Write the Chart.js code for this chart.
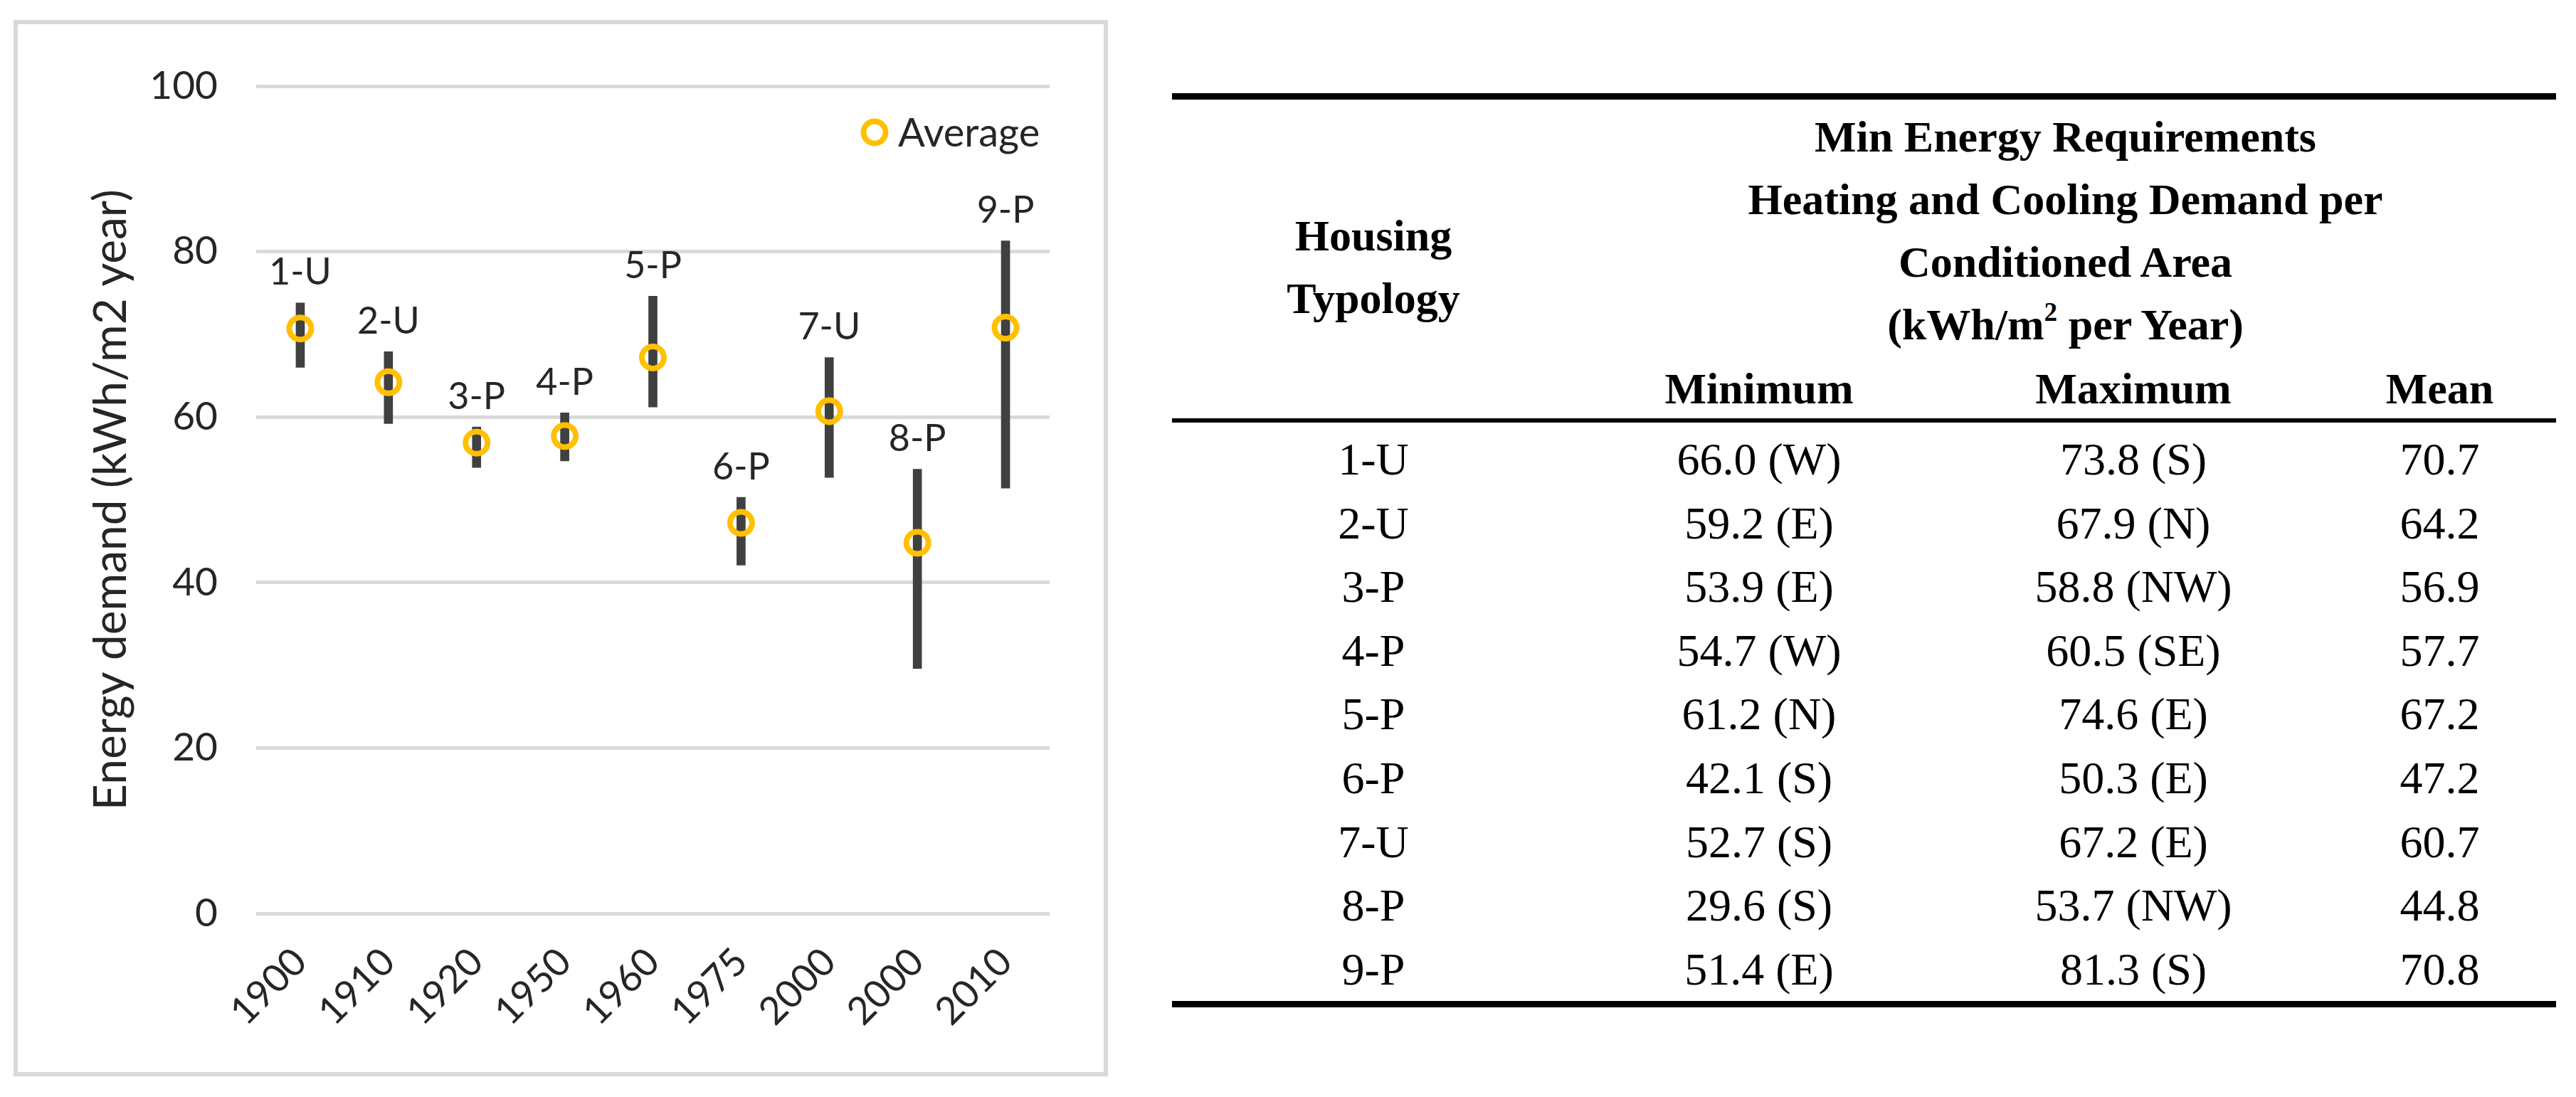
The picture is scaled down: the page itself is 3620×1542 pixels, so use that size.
<!DOCTYPE html>
<html>
<head>
<meta charset="utf-8">
<script src="https://cdn.jsdelivr.net/npm/chart.js@4"></script>
<style>
  body { margin: 0; background: #fff; width: 3620px; height: 1542px; position: relative; overflow: hidden; }
  #panel { position: absolute; left: 19px; top: 28px; width: 1538px; height: 1485px; border: 6px solid #d9d9d9; box-sizing: border-box; }
  #chartBox { position: absolute; left: 0; top: 0; }
  #tbl { position: absolute; left: 1647px; top: 131px; width: 1945px; table-layout: fixed; border-collapse: separate; border-spacing: 0; font-family: "Liberation Serif", serif; color: #000; }
  #tbl td, #tbl th { padding: 0; text-align: center; }
  #tbl th { font-size: 62px; font-weight: bold; line-height: 88px; }
  #tbl thead tr.r1 th { border-top: 9px solid #000; padding-top: 8px; vertical-align: top; }
  #tbl thead tr.r1 th.typ { vertical-align: middle; padding-top: 22px; border-bottom: 6px solid #000; }
  #tbl thead tr.r2 th { border-bottom: 6px solid #000; height: 88px; line-height: 84px; vertical-align: bottom; }
  #tbl tbody td { font-size: 64px; height: 89.6px; line-height: 89.6px; vertical-align: middle; }
  #tbl tbody tr:first-child td { padding-top: 7px; }
  #tbl tbody tr:last-child td { border-bottom: 9px solid #000; }
  sup { font-size: 0.6em; line-height: 0; vertical-align: 0.7em; }
</style>
</head>
<body>
<div id="panel"><canvas id="chartBox" width="1526" height="1473"></canvas></div>
<table id="tbl">
  <colgroup><col style="width:566px"><col style="width:518px"><col style="width:534px"><col style="width:327px"></colgroup>
  <thead>
    <tr class="r1"><th class="typ" rowspan="2">Housing<br>Typology</th>
        <th colspan="3">Min Energy Requirements<br>Heating and Cooling Demand per<br>Conditioned Area<br>(kWh/m<sup>2</sup> per Year)</th></tr>
    <tr class="r2"><th>Minimum</th><th>Maximum</th><th>Mean</th></tr>
  </thead>
  <tbody id="tbody"></tbody>
</table>
<script>
// data
let categories = ["1900", "1910", "1920", "1950", "1960", "1975", "2000", "2000", "2010"];
let typologies = ["1-U", "2-U", "3-P", "4-P", "5-P", "6-P", "7-U", "8-P", "9-P"];
let minValues = [66.0, 59.2, 53.9, 54.7, 61.2, 42.1, 52.7, 29.6, 51.4];
let maxValues = [73.8, 67.9, 58.8, 60.5, 74.6, 50.3, 67.2, 53.7, 81.3];
let meanValues = [70.7, 64.2, 56.9, 57.7, 67.2, 47.2, 60.7, 44.8, 70.8];
let minOrient = ["W", "E", "E", "W", "N", "S", "S", "S", "E"];
let maxOrient = ["S", "N", "NW", "SE", "E", "E", "E", "NW", "S"];
let yMin = 0, yMax = 100, yStep = 20;

/* fill the table from the arrays */
let tbody = document.getElementById("tbody");
typologies.forEach(function (t, i) {
    let tr = document.createElement("tr");
    [t, minValues[i].toFixed(1) + " (" + minOrient[i] + ")", maxValues[i].toFixed(1) + " (" + maxOrient[i] + ")", meanValues[i].toFixed(1)].forEach(function (txt) {
        let td = document.createElement("td");
        td.textContent = txt;
        tr.appendChild(td);
    });
    tbody.appendChild(tr);
});

let textColor = "#262626";

/* typology names above each range bar + the "Average" legend */
let extraText = {
    id: "extraText",
    afterDatasetsDraw: function (chart) {
        let ctx = chart.ctx;
        let xs = chart.scales.x, ys = chart.scales.y;
        ctx.save();
        ctx.font = "52px Lato";
        ctx.fillStyle = textColor;
        ctx.textAlign = "center";
        ctx.textBaseline = "middle";
        typologies.forEach(function (t, i) {
            ctx.fillText(t, xs.getPixelForValue(i), ys.getPixelForValue(maxValues[i]) - 42);
        });

        // legend, top right inside the plot
        let ds = chart.data.datasets[0];
        let lx = chart.chartArea.right - 246, ly = chart.chartArea.top + 65;
        ctx.beginPath();
        ctx.arc(lx, ly, 15.5, 0, Math.PI * 2);
        ctx.lineWidth = ds.pointBorderWidth;
        ctx.strokeStyle = ds.borderColor;
        ctx.stroke();
        ctx.font = "56px Lato";
        ctx.textAlign = "left";
        ctx.fillStyle = textColor;
        ctx.fillText(ds.label, lx + 33, ly + 2);
        ctx.restore();
    }
};

let ctx = document.getElementById("chartBox").getContext("2d");
Chart.defaults.font.family = "Lato";
Chart.defaults.color = textColor;

let energyChart = new Chart(ctx, {
    type: "bar",
    data: {
        labels: categories,
        datasets: [
            {
                type: "line",
                label: "Average",
                data: meanValues,
                showLine: false,
                borderColor: "#FFC000",
                backgroundColor: "rgba(0,0,0,0)",
                borderWidth: 8,
                pointRadius: 15.5,
                pointBorderWidth: 8,
                pointStyle: "circle",
                order: 0
            },
            {
                type: "bar",
                label: "Range",
                data: minValues.map(function (v, i) { return [v, maxValues[i]]; }),
                backgroundColor: "#404040",
                barThickness: 12,
                order: 1
            }
        ]
    },
    options: {
        responsive: false,
        animation: false,
        devicePixelRatio: 1,
        layout: { padding: { top: 72, right: 76, left: 0, bottom: 0 } },
        plugins: {
            tooltip: { enabled: false },
            legend: { display: false }
        },
        scales: {
            x: {
                grid: { display: false },
                border: { display: false },
                ticks: { minRotation: 45, maxRotation: 45, padding: 28, font: { size: 54 }, color: textColor },
                afterFit: function (s) { s.height = 223; }
            },
            y: {
                min: yMin,
                max: yMax,
                ticks: { stepSize: yStep, padding: 54, font: { size: 55 }, color: textColor },
                grid: { color: "#d9d9d9", lineWidth: 5, drawTicks: false },
                border: { display: false },
                title: { display: true, text: "Energy demand (kWh/m2 year)", font: { size: 64 }, color: textColor, padding: { top: 93, bottom: 0 } },
                afterFit: function (s) { s.width = 335; }
            }
        }
    },
    plugins: [extraText]
});
</script>
</body>
</html>
